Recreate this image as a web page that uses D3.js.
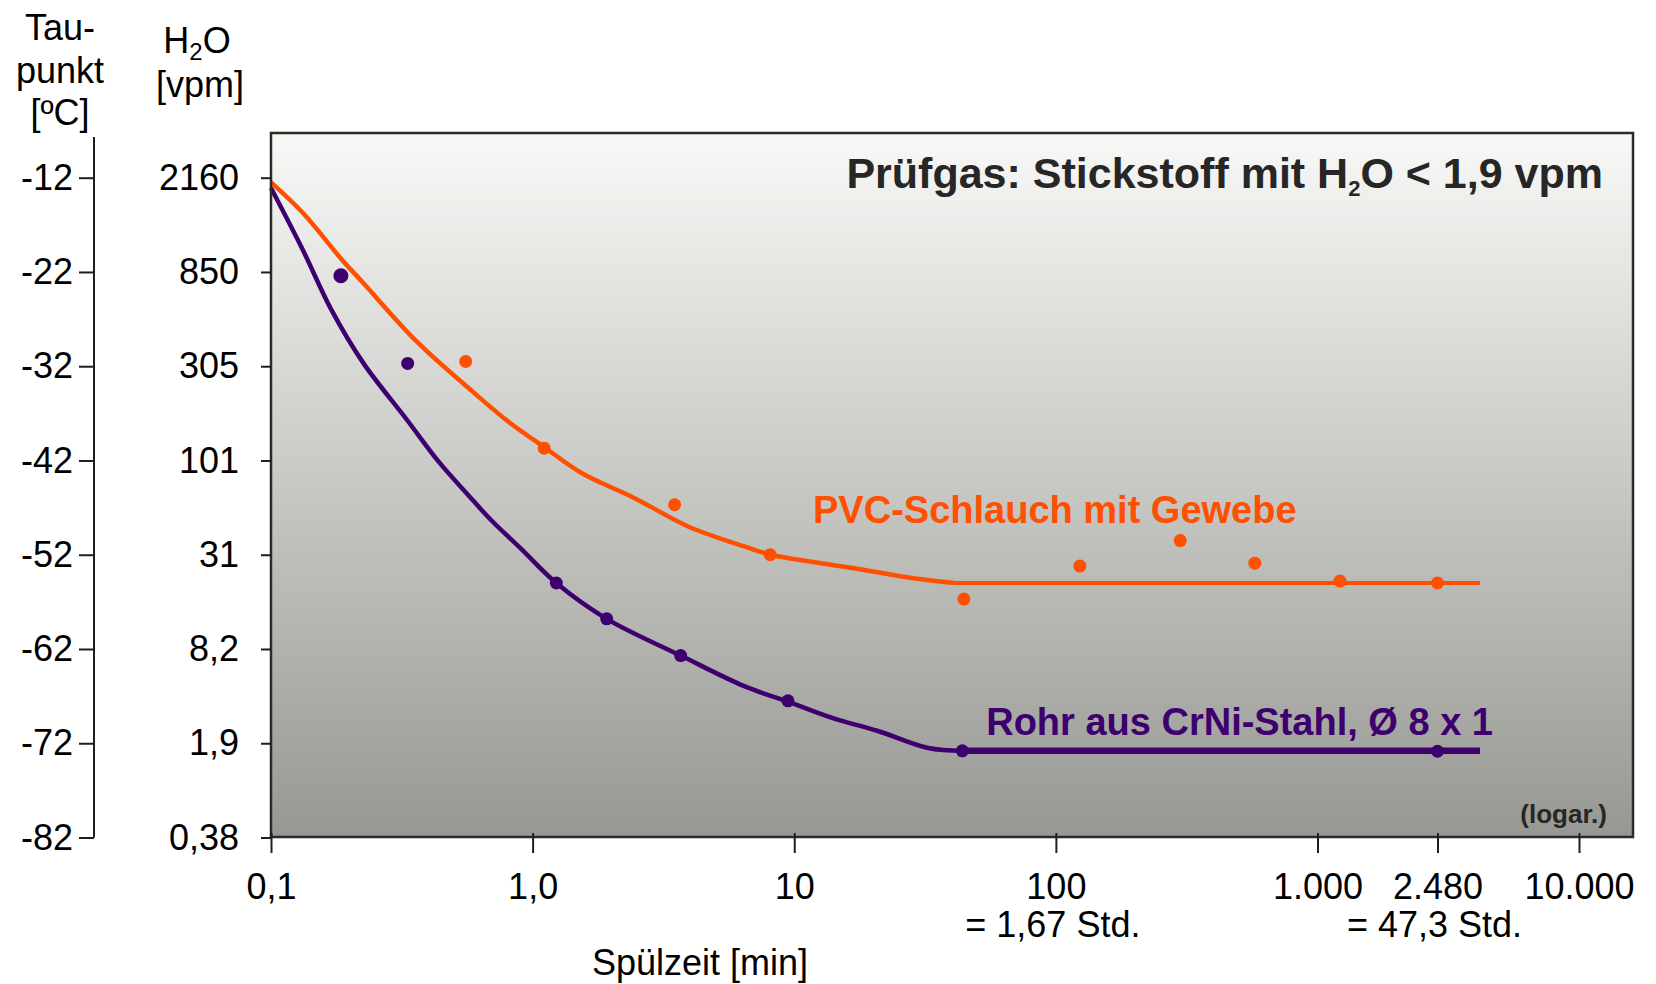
<!DOCTYPE html>
<html>
<head>
<meta charset="utf-8">
<script src="https://cdn.jsdelivr.net/npm/d3@7"></script>
<style>
  body { margin: 0; background: #fff; }
  svg { display: block; font-family: "Liberation Sans", Arial, sans-serif; }
  .tick text { font-size: 36px; fill: #000; }
  .tick line { stroke: #1e1e1e; stroke-width: 2; }
</style>
</head>
<body>
<script>

var width = 1656,
    height = 984;

// plot frame
var left = 271, right = 1633, top_ = 133, bottom = 837;

// tick values / labels
var dewTicks = [-12, -22, -32, -42, -52, -62, -72, -82];
var h2oLabels = ["2160", "850", "305", "101", "31", "8,2", "1,9", "0,38"];
var xTicks = [0.1, 1, 10, 100, 1000, 2480, 10000];
var xTickLabels = ["0,1", "1,0", "10", "100", "1.000", "2.480", "10.000"];
var hourTicks = [100, 2480];
var hourLabels = ["= 1,67 Std.", "= 47,3 Std."];

// Rohr aus CrNi-Stahl (Spülzeit in min, Taupunkt in °C)
var rohrCurveX  = [0.1, 0.1325, 0.17, 0.2258, 0.329, 0.4365, 0.56, 0.698, 0.898, 1.232, 1.919, 3.68, 6.51, 9.5, 13.95, 20.9, 32.5, 43.9];
var rohrCurveTp = [-13.1, -19.7, -26.0, -31.7, -37.6, -42.1, -45.5, -48.4, -51.3, -55.0, -58.8, -62.7, -66.0, -67.6, -69.3, -70.7, -72.5, -72.8];
var rohrFlatX   = [43.9, 3770];
var rohrFlatTp  = [-72.8, -72.8];
var rohrDotsX   = [0.185, 0.333, 1.232, 1.919, 3.68, 9.46, 43.9, 2480];
var rohrDotsTp  = [-22.4, -31.7, -55.0, -58.8, -62.7, -67.5, -72.8, -72.85];

// PVC-Schlauch mit Gewebe
var pvcCurveX  = [0.1, 0.1325, 0.1867, 0.2258, 0.361, 0.5957, 0.818, 1.122, 1.532, 2.453, 3.93, 6.49, 8.14, 16.7, 28.5, 40.9];
var pvcCurveTp = [-12.5, -15.75, -20.7, -23.2, -29.4, -34.8, -38.0, -40.7, -43.3, -46.0, -49.0, -51.15, -52.0, -53.4, -54.5, -55.0];
var pvcFlatX   = [40.9, 3770];
var pvcFlatTp  = [-55.0, -55.0];
var pvcDotsX   = [0.555, 1.107, 3.49, 8.09, 44.5, 123.5, 298.8, 575.8, 1185, 2480];
var pvcDotsTp  = [-31.5, -40.7, -46.7, -52.0, -56.7, -53.2, -50.5, -52.9, -54.8, -55.0];

var orange = "#ff4f00",
    purple = "#3d006e";

// x is logarithmic, but the 2.480 mark sits a bit right of its true spot in the original
var x = d3.scaleLog()
    .domain([0.1, 1000, 2480, 10000])
    .range([271, 1317.5, 1437.5, 1579]);

var y = d3.scaleLinear()
    .domain([-82, -12])
    .range([837.5, 177.7]);

var zip = function(xs, ys) { return xs.map(function(v, i) { return [v, ys[i]]; }); };

var line = d3.line()
    .x(function(d) { return x(d[0]); })
    .y(function(d) { return y(d[1]); })
    .curve(d3.curveCatmullRom.alpha(0.5));

var svg = d3.select("body").append("svg")
    .attr("width", width)
    .attr("height", height);

var grad = svg.append("defs").append("linearGradient")
    .attr("id", "bg")
    .attr("x1", 0).attr("y1", 0).attr("x2", 0).attr("y2", 1);
grad.append("stop").attr("offset", "0%").attr("stop-color", "#f8f8f6");
grad.append("stop").attr("offset", "100%").attr("stop-color", "#979893");

svg.append("rect")
    .attr("x", left).attr("y", top_)
    .attr("width", right - left).attr("height", bottom - top_)
    .attr("fill", "url(#bg)");

// curves
svg.append("path")
    .datum(zip(pvcCurveX, pvcCurveTp))
    .attr("d", line)
    .attr("fill", "none").attr("stroke", orange).attr("stroke-width", 4.5);
svg.append("path")
    .datum(zip(pvcFlatX, pvcFlatTp))
    .attr("d", line)
    .attr("fill", "none").attr("stroke", orange).attr("stroke-width", 4);
svg.append("path")
    .datum(zip(rohrCurveX, rohrCurveTp))
    .attr("d", line)
    .attr("fill", "none").attr("stroke", purple).attr("stroke-width", 4.5);
svg.append("path")
    .datum(zip(rohrFlatX, rohrFlatTp))
    .attr("d", line)
    .attr("fill", "none").attr("stroke", purple).attr("stroke-width", 6.5);

svg.append("g").selectAll("circle")
    .data(zip(pvcDotsX, pvcDotsTp))
  .enter().append("circle")
    .attr("cx", function(d) { return x(d[0]); })
    .attr("cy", function(d) { return y(d[1]); })
    .attr("r", 6.5)
    .attr("fill", orange);

svg.append("g").selectAll("circle")
    .data(zip(rohrDotsX, rohrDotsTp))
  .enter().append("circle")
    .attr("cx", function(d) { return x(d[0]); })
    .attr("cy", function(d) { return y(d[1]); })
    .attr("r", function(d, i) { return i == 0 ? 7.5 : 6.5; })
    .attr("fill", purple);

// frame
svg.append("rect")
    .attr("x", left).attr("y", top_)
    .attr("width", right - left).attr("height", bottom - top_)
    .attr("fill", "none")
    .attr("stroke", "#2b2b26")
    .attr("stroke-width", 2.5);

// H2O axis
var h2oAxis = svg.append("g")
    .attr("transform", "translate(" + left + ",0)")
    .call(d3.axisLeft(y)
        .tickValues(dewTicks)
        .tickFormat(function(d, i) { return h2oLabels[i]; })
        .tickSize(10)
        .tickPadding(22));
h2oAxis.select(".domain").remove();

// dew point axis
var dewX = 94;
var dewAxis = svg.append("g")
    .attr("transform", "translate(" + dewX + ",0)")
    .call(d3.axisLeft(y)
        .tickValues(dewTicks)
        .tickFormat(function(d) { return d; })
        .tickSize(15)
        .tickPadding(6));
dewAxis.select(".domain").remove();
dewAxis.append("line")
    .attr("x1", 0).attr("x2", 0)
    .attr("y1", top_ + 4).attr("y2", y(-82))
    .attr("stroke", "#1e1e1e").attr("stroke-width", 2);

// x axis
var xAxis = svg.append("g")
    .attr("transform", "translate(0," + bottom + ")")
    .call(d3.axisBottom(x)
        .tickValues(xTicks)
        .tickFormat(function(d, i) { return xTickLabels[i]; })
        .tickSize(16)
        .tickPadding(20));
xAxis.select(".domain").remove();
xAxis.selectAll(".tick line").attr("y1", -4);

svg.append("g").selectAll("text")
    .data(hourTicks)
  .enter().append("text")
    .attr("x", function(d) { return x(d) - 3; })
    .attr("y", 937)
    .attr("text-anchor", "middle")
    .style("font-size", "36px")
    .text(function(d, i) { return hourLabels[i]; });

svg.append("text")
    .attr("x", 700).attr("y", 975)
    .attr("text-anchor", "middle")
    .style("font-size", "36px")
    .text("Spülzeit [min]");

// axis headers
var dewHead = ["Tau-", "punkt", "[ºC]"];
svg.append("g").selectAll("text")
    .data(dewHead)
  .enter().append("text")
    .attr("x", 60)
    .attr("y", function(d, i) { return 40 + i * 42.5; })
    .attr("text-anchor", "middle")
    .style("font-size", "36px")
    .text(function(d) { return d; });

var h2oHead = svg.append("text")
    .attr("x", 197).attr("y", 53)
    .attr("text-anchor", "middle")
    .style("font-size", "36px");
h2oHead.append("tspan").text("H");
h2oHead.append("tspan").attr("dy", 7).style("font-size", "24px").text("2");
h2oHead.append("tspan").attr("dy", -7).text("O");

svg.append("text")
    .attr("x", 200).attr("y", 97)
    .attr("text-anchor", "middle")
    .style("font-size", "36px")
    .text("[vpm]");

// title + annotations
var title = svg.append("text")
    .attr("x", 1603).attr("y", 188)
    .attr("text-anchor", "end")
    .style("font-size", "43px")
    .style("font-weight", "bold")
    .attr("fill", "#262626");
title.append("tspan").text("Prüfgas: Stickstoff mit H");
title.append("tspan").attr("dy", 8).style("font-size", "22px").text("2");
title.append("tspan").attr("dy", -8).text("O < 1,9 vpm");

svg.append("text")
    .attr("x", 813).attr("y", 523)
    .style("font-size", "38px")
    .style("font-weight", "bold")
    .attr("fill", orange)
    .text("PVC-Schlauch mit Gewebe");

svg.append("text")
    .attr("x", 1493).attr("y", 735)
    .attr("text-anchor", "end")
    .style("font-size", "38px")
    .style("font-weight", "bold")
    .attr("fill", purple)
    .text("Rohr aus CrNi-Stahl, Ø 8 x 1");

svg.append("text")
    .attr("x", 1607).attr("y", 823)
    .attr("text-anchor", "end")
    .style("font-size", "26px")
    .style("font-weight", "bold")
    .attr("fill", "#262626")
    .text("(logar.)");

</script>
</body>
</html>
